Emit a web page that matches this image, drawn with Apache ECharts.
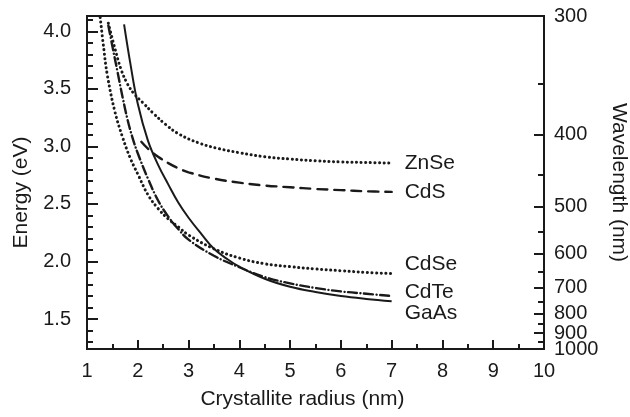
<!DOCTYPE html>
<html>
<head>
<meta charset="utf-8">
<script src="https://cdn.jsdelivr.net/npm/echarts@6/dist/echarts.min.js"></script>
<style>
  html, body { margin: 0; padding: 0; background: #fff; }
  #chart { width: 630px; height: 417px; }
</style>
</head>
<body>
<div id="chart"></div>
<script>
// ---- Data (crystallite radius in nm, energy in eV) ----
const radiusZnSe = [1.42, 1.55, 1.67, 1.8, 1.94, 2.1, 2.3, 2.55, 2.8, 3.2, 3.6, 4.0, 4.5, 5.0, 5.5, 6.0, 6.5, 7.0];
const energyZnSe = [4.07, 3.85, 3.67, 3.54, 3.45, 3.38, 3.29, 3.19, 3.11, 3.03, 2.98, 2.945, 2.91, 2.89, 2.875, 2.865, 2.86, 2.855];

const radiusCdS = [2.07, 2.2, 2.4, 2.6, 2.8, 3.0, 3.5, 4.0, 4.5, 5.0, 5.5, 6.0, 6.5, 7.0];
const energyCdS = [3.04, 2.98, 2.91, 2.855, 2.81, 2.775, 2.72, 2.685, 2.66, 2.645, 2.63, 2.62, 2.61, 2.605];

const radiusCdSe = [1.26, 1.33, 1.4, 1.55, 1.7, 1.85, 2.0, 2.2, 2.4, 2.6, 2.8, 3.0, 3.5, 4.0, 4.5, 5.0, 5.5, 6.0, 6.5, 7.0];
const energyCdSe = [4.12, 3.85, 3.62, 3.30, 3.08, 2.90, 2.76, 2.58, 2.46, 2.37, 2.30, 2.23, 2.11, 2.03, 1.98, 1.955, 1.935, 1.92, 1.905, 1.895];

const radiusCdTe = [1.42, 1.5, 1.6, 1.7, 1.8, 1.9, 2.0, 2.2, 2.4, 2.6, 2.8, 3.0, 3.5, 4.0, 4.5, 5.0, 5.5, 6.0, 6.5, 7.0];
const energyCdTe = [4.05, 3.87, 3.65, 3.43, 3.23, 3.07, 2.94, 2.72, 2.53, 2.39, 2.28, 2.19, 2.05, 1.95, 1.865, 1.81, 1.77, 1.74, 1.72, 1.70];

const radiusGaAs = [1.73, 1.85, 2.0, 2.2, 2.4, 2.6, 2.8, 3.0, 3.25, 3.5, 3.75, 4.0, 4.5, 5.0, 5.5, 6.0, 6.5, 7.0];
const energyGaAs = [4.06, 3.73, 3.37, 3.05, 2.84, 2.67, 2.51, 2.38, 2.24, 2.11, 2.025, 1.955, 1.85, 1.78, 1.735, 1.70, 1.675, 1.655];

// ---- Tick labels ----
const energyTickLabels = [1.5, 2.0, 2.5, 3.0, 3.5, 4.0];
const energyAllTicks = [1.3, 1.4, 1.5, 1.6, 1.7, 1.8, 1.9, 2.0, 2.1, 2.2, 2.3, 2.4, 2.5, 2.6, 2.7, 2.8, 2.9, 3.0, 3.1, 3.2, 3.3, 3.4, 3.5, 3.6, 3.7, 3.8, 3.9, 4.0, 4.1];
const wavelengthTickLabels = [300, 400, 500, 600, 700, 800, 900];
const wavelengthLastLabel = [1000];
const wavelengthAllTicks = [300, 350, 400, 450, 500, 550, 600, 650, 700, 750, 800, 850, 900, 950, 1000];

const HC = 1239.84; // eV*nm
const eMin = HC / 1000;
const eMax = HC / 300;

const ink = '#1a1a1a';
const font = 'Liberation Sans, Arial, Helvetica, sans-serif';

function pairs(xs, ys) { return xs.map((x, i) => [x, ys[i]]); }
const toEnergy = l => HC / l;
const toWavelength = v => String(Math.round(HC / v));

const chart = echarts.init(document.getElementById('chart'), null, { renderer: 'canvas' });

function lineSeries(name, xs, ys, dash, width, labelOffset) {
  return {
    name: name, type: 'line', xAxisIndex: 0, yAxisIndex: 0,
    data: pairs(xs, ys), showSymbol: false, symbol: 'none',
    smooth: 0.4, clip: false,
    lineStyle: { color: ink, width: width, type: dash, cap: dash === 'solid' ? 'butt' : 'round' },
    endLabel: {
      show: true, formatter: name, color: ink, fontFamily: font, fontSize: 21,
      distance: 5, offset: labelOffset
    },
    emphasis: { disabled: true }, silent: true
  };
}

const tickLine = { color: ink, width: 2 };

const option = {
  animation: false,
  backgroundColor: '#fff',
  grid: {
    left: 87, right: 86, top: 16, bottom: 68,
    containLabel: false, outerBoundsMode: 'none',
    show: true, borderColor: ink, borderWidth: 2, backgroundColor: 'transparent'
  },
  xAxis: [{
    type: 'value', min: 1, max: 10, interval: 1,
    name: 'Crystallite radius (nm)', nameLocation: 'middle', nameGap: 40,
    nameTextStyle: { color: ink, fontFamily: font, fontSize: 21, padding: [0, 26, 0, 0] },
    axisLine: { show: true, lineStyle: { color: ink, width: 2 } },
    axisTick: { show: true, inside: true, length: 9, lineStyle: tickLine },
    minorTick: { show: true, splitNumber: 2, length: 5, lineStyle: tickLine },
    axisLabel: { color: ink, fontFamily: font, fontSize: 20, margin: 12 },
    splitLine: { show: false }, minorSplitLine: { show: false }
  }],
  yAxis: [
    {
      type: 'value', min: eMin, max: eMax, position: 'left', offset: 0,
      name: 'Energy (eV)', nameLocation: 'middle', nameGap: 55, nameRotate: 90,
      nameTextStyle: { color: ink, fontFamily: font, fontSize: 21, padding: [0, 20, 0, 0] },
      axisLine: { show: true, lineStyle: { color: ink, width: 2 } },
      axisTick: { show: true, inside: true, length: 6, customValues: energyAllTicks, lineStyle: tickLine },
      axisLabel: { show: true, customValues: energyTickLabels, color: ink, fontFamily: font, fontSize: 20, margin: 16,
                   showMinLabel: true, showMaxLabel: true, hideOverlap: false,
                   formatter: v => v.toFixed(1) },
      splitLine: { show: false }
    },
    {
      type: 'value', min: eMin, max: eMax, position: 'left', offset: 0,
      splitLine: { show: false }, axisLine: { show: false }, axisLabel: { show: false },
      axisTick: { show: true, inside: true, length: 11, customValues: energyTickLabels, lineStyle: tickLine }
    },
    {
      type: 'value', min: eMin, max: eMax, position: 'right', offset: 0,
      name: 'Wavelength (nm)', nameLocation: 'middle', nameGap: 64, nameRotate: -90,
      nameTextStyle: { color: ink, fontFamily: font, fontSize: 21 },
      axisLine: { show: true, lineStyle: { color: ink, width: 2 } },
      axisTick: { show: true, inside: true, length: 6, customValues: wavelengthAllTicks.map(toEnergy), lineStyle: tickLine },
      axisLabel: { show: true, customValues: wavelengthTickLabels.map(toEnergy), color: ink, fontFamily: font, fontSize: 20, margin: 10,
                   showMinLabel: true, showMaxLabel: true, hideOverlap: false, formatter: toWavelength },
      splitLine: { show: false }
    },
    {
      type: 'value', min: eMin, max: eMax, position: 'right', offset: 0,
      splitLine: { show: false }, axisLine: { show: false },
      axisLabel: { show: true, customValues: wavelengthLastLabel.map(toEnergy), color: ink, fontFamily: font, fontSize: 20, margin: 10,
                   showMinLabel: true, hideOverlap: false, formatter: toWavelength },
      axisTick: { show: true, inside: true, length: 10, customValues: wavelengthTickLabels.concat(wavelengthLastLabel).map(toEnergy), lineStyle: tickLine }
    }
  ],
  series: [
    lineSeries('ZnSe', radiusZnSe, energyZnSe, [0.1, 4.5], 3, [8, 0]),
    lineSeries('CdS', radiusCdS, energyCdS, [10, 7], 2.4, [8, 0]),
    lineSeries('CdSe', radiusCdSe, energyCdSe, [0.1, 4.5], 3, [8, -9]),
    lineSeries('CdTe', radiusCdTe, energyCdTe, [9, 3.5, 0.1, 3.5], 2.4, [8, -4]),
    lineSeries('GaAs', radiusGaAs, energyGaAs, 'solid', 2, [8, 12])
  ]
};

chart.setOption(option);
</script>
</body>
</html>
